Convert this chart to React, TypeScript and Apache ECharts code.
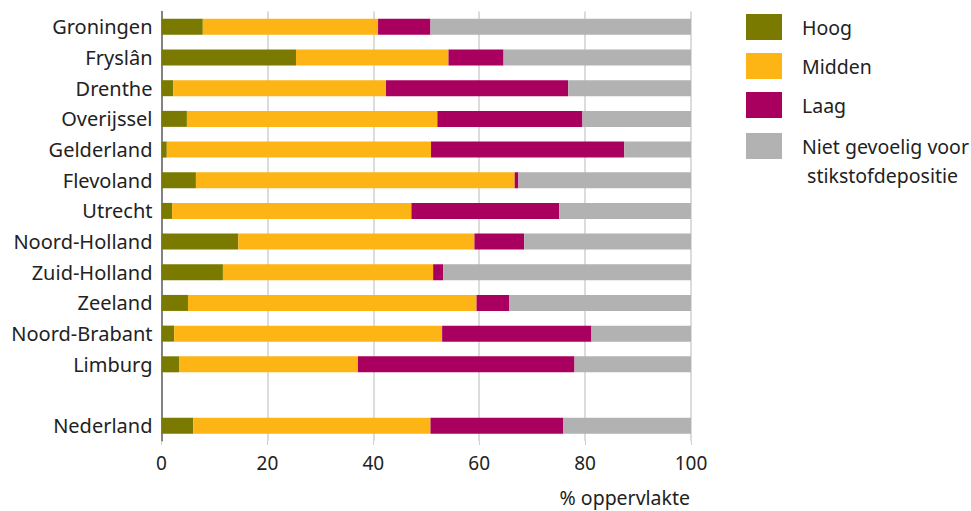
import React, { useEffect, useRef } from "react";
import * as echarts from "echarts";

const categories = [
  "Groningen", "Fryslân", "Drenthe", "Overijssel", "Gelderland", "Flevoland",
  "Utrecht", "Noord-Holland", "Zuid-Holland", "Zeeland", "Noord-Brabant", "Limburg",
  "", "Nederland",
];
const hoog = [7.8, 25.4, 2.2, 4.8, 1.0, 6.5, 2.0, 14.5, 11.6, 5.0, 2.4, 3.3, null, 6.0];
const midden = [33.1, 28.8, 40.2, 47.3, 49.9, 60.2, 45.2, 44.6, 39.7, 54.5, 50.6, 33.8, null, 44.8];
const laag = [9.9, 10.4, 34.4, 27.4, 36.5, 0.7, 27.9, 9.4, 1.9, 6.2, 28.2, 40.9, null, 25.1];
const niet = [49.2, 35.4, 23.2, 20.5, 12.6, 32.6, 24.9, 31.5, 46.8, 34.3, 18.8, 22.0, null, 24.1];
const seriesNames = ["Hoog", "Midden", "Laag", "Niet gevoelig voor\n stikstofdepositie"];
const xTicks = [0, 20, 40, 60, 80, 100];
const axisTitle = "% oppervlakte";

const colors = ["#7a7a00", "#fdb515", "#a9005f", "#b2b2b2"];
const FONT = "Noto Sans";

export default function App() {
  const ref = useRef<HTMLDivElement>(null);
  useEffect(() => {
    if (!ref.current) return;
    const chart = echarts.init(ref.current, null, { renderer: "svg" });
    const values = [hoog, midden, laag, niet];
    const legendY = [27, 66, 105, 146];
    const legendGraphics: any[] = [];
    seriesNames.forEach((n, i) => {
      legendGraphics.push({
        type: "rect",
        shape: { x: 746, y: legendY[i] - 13, width: 36, height: 26 },
        style: { fill: colors[i] },
      });
      legendGraphics.push({
        type: "text",
        x: 802,
        y: legendY[i],
        style: {
          text: n,
          font: `19.5px "${FONT}"`,
          fill: "#222",
          verticalAlign: "middle",
          lineHeight: 29,
        },
      });
    });
    const last = legendGraphics[legendGraphics.length - 1];
    last.style.verticalAlign = "top";
    last.y = legendY[3] - 14.5;

    chart.setOption({
      animation: false,
      grid: { left: 161.5, right: 280, top: 11.5, bottom: 70, containLabel: false },
      xAxis: {
        type: "value",
        min: 0,
        max: 100,
        interval: 20,
        axisLine: { show: false },
        axisTick: { show: true, length: 4, lineStyle: { color: "#d0d0d0" } },
        splitLine: { show: true, lineStyle: { color: "#d0d0d0", width: 1.5 } },
        axisLabel: {
          margin: 12,
          fontSize: 19,
          fontFamily: FONT,
          color: "#222",
          formatter: (v: number) => (xTicks.includes(v) ? String(v) : ""),
        },
      },
      yAxis: {
        type: "category",
        data: categories,
        inverse: true,
        axisLine: { show: true, lineStyle: { color: "#666", width: 1.5 } },
        axisTick: { show: false },
        axisLabel: { margin: 9, fontSize: 20, fontFamily: FONT, color: "#222" },
      },
      series: values.map((d, i) => ({
        name: seriesNames[i],
        type: "bar",
        stack: "total",
        data: d,
        barWidth: 16,
        itemStyle: { color: colors[i] },
      })),
      graphic: [
        ...legendGraphics,
        {
          type: "text",
          x: 690,
          y: 497,
          style: {
            text: axisTitle,
            font: `19.5px "${FONT}"`,
            fill: "#222",
            align: "right",
            verticalAlign: "middle",
          },
        },
      ],
    });
    return () => chart.dispose();
  }, []);
  return <div ref={ref} style={{ width: 971, height: 511, position: "absolute", left: 0, top: 0 }} />;
}
